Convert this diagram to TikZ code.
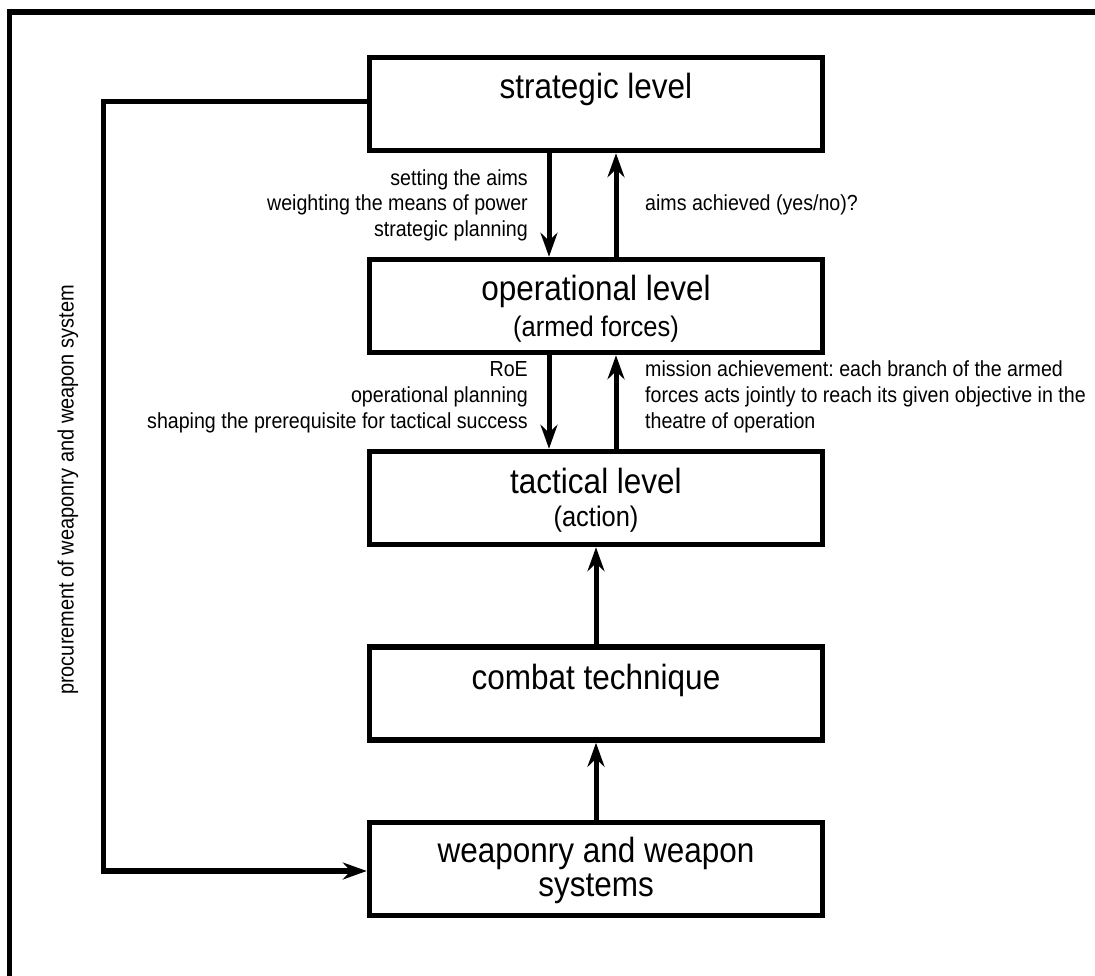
\documentclass[tikz,border=0pt]{standalone}
\usepackage{fontspec}
\setmainfont[FakeStretch=0.9]{Liberation Sans}
\usetikzlibrary{arrows.meta}
\begin{document}
\frenchspacing
\begin{tikzpicture}[x=1pt,y=-1pt,
  levelbox/.style={draw, line width=5.5pt, minimum width=453pt, minimum height=93pt, inner sep=0pt},
  ttl/.style={font=\fontsize{35}{40}\selectfont, inner sep=0pt, anchor=base},
  sub/.style={font=\fontsize{28.3}{32}\selectfont, inner sep=0pt, anchor=base},
  lbl/.style={font=\fontsize{21.8}{26}\selectfont, inner sep=0pt},
  arr/.style={line width=5pt, -{Stealth[length=24pt,width=17pt,inset=8pt]}},
  fline/.style={line width=5.5pt}]
\useasboundingbox (0,0) rectangle (1095,976);
\clip (0,0) rectangle (1095,976);
% frame
\draw[fline] (1110,12) -- (9.5,12) -- (9.5,990);
% boxes
\node[levelbox] (strat) at (596,104) {};
\node[levelbox] (oper) at (596,306) {};
\node[levelbox] (tact) at (596,498) {};
\node[levelbox] (comb) at (596,693.5) {};
\node[levelbox] (weap) at (596,869) {};
% box texts
\node[ttl] (tstrat) at (596,99) {strategic level};
\node[ttl] (toper) at (596,301) {operational level};
\node[sub] (toper2) at (596,337) {(armed forces)};
\node[ttl] (ttact) at (596,493) {tactical level};
\node[sub] (ttact2) at (596,526) {(action)};
\node[ttl] (tcomb) at (596,689) {combat technique};
\node[ttl] (tweap) at (596,862) {weaponry and weapon};
\node[ttl] (tweap2) at (596,896) {systems};
% arrows between levels
\draw[arr] ([xshift=-47pt]strat.south) -- ([xshift=-47pt]oper.north);
\draw[arr] ([xshift=20pt]oper.north) -- ([xshift=20pt]strat.south);
\draw[arr] ([xshift=-47pt]oper.south) -- ([xshift=-47pt]tact.north);
\draw[arr] ([xshift=20pt]tact.north) -- ([xshift=20pt]oper.south);
\draw[arr] (comb.north) -- (tact.south);
\draw[arr] (weap.north) -- (comb.south);
% feedback loop
\coordinate (fb1) at (103.5,101.5);
\coordinate (fb2) at (103.5,871);
\draw[arr, line width=5.5pt] ([yshift=2.5pt]strat.west) -- (fb1) -- (fb2) -- ([yshift=-2pt]weap.west);
% labels
\node[lbl, anchor=base east] (l1) at (528,186) {setting the aims};
\node[lbl, anchor=base east] (l2) at (528,211) {weighting the means of power};
\node[lbl, anchor=base east] (l3) at (528,237) {strategic planning};
\node[lbl, anchor=base west] (l4) at (645,211) {aims achieved (yes/no)?};
\node[lbl, anchor=base east] (l5) at (528,376) {RoE};
\node[lbl, anchor=base east] (l6) at (528,402) {operational planning};
\node[lbl, anchor=base east] (l7) at (528,428) {shaping the prerequisite for tactical success};
\node[lbl, anchor=base west] (l8) at (645,376) {mission achievement: each branch of the armed};
\node[lbl, anchor=base west] (l9) at (645,402) {forces acts jointly to reach its given objective in the};
\node[lbl, anchor=base west] (l10) at (645,428) {theatre of operation};
\node[lbl, rotate=90, font=\fontsize{22.2}{26}\selectfont] (lproc) at (68,490) {procurement of weaponry and weapon system};
\end{tikzpicture}
\end{document}
